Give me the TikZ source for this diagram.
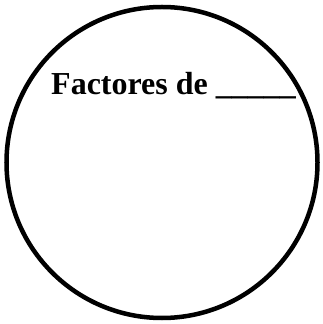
\documentclass[tikz,border=0pt]{standalone}
\usepackage{fontspec}
\setmainfont{Liberation Serif}
\begin{document}
\begin{tikzpicture}[x=1pt,y=1pt,
  ring/.style={draw=black,line width=4.5pt,circle,minimum size=311pt,inner sep=0pt},
  title/.style={anchor=base west,inner sep=0pt,font=\fontsize{32}{38}\selectfont\bfseries}]
\useasboundingbox (0,0) rectangle (322,324);
\node[ring] (c) at (162,161.5) {};
\node[title] (t) at (51,229) {Factores de \textunderscore\textunderscore\textunderscore\textunderscore\textunderscore};
\end{tikzpicture}
\end{document}
